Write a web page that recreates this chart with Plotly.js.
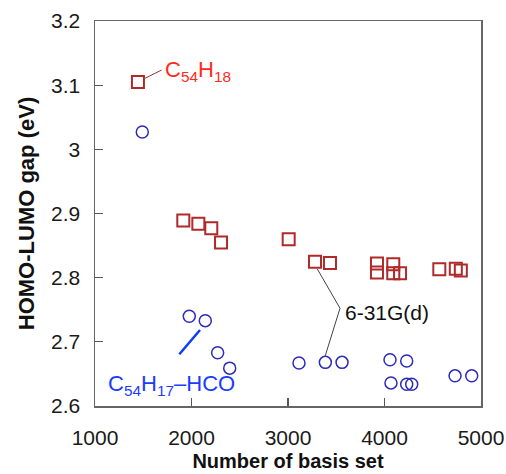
<!DOCTYPE html>
<html>
<head>
<meta charset="utf-8">
<script src="https://cdn.plot.ly/plotly-3.0.1.min.js"></script>
<style>html,body{margin:0;padding:0;background:#fff;}#chart{width:506px;height:474px;}</style>
</head>
<body>
<div id="chart"></div>
<script>
// C54H18 (squares)
const pahBasis = [1445, 1915, 2071, 2205, 2306, 3007, 3280, 3435, 3922, 3922, 4091, 4091, 4161, 4568, 4739, 4791];
const pahGap   = [3.105, 2.889, 2.884, 2.877, 2.855, 2.860, 2.825, 2.823, 2.822, 2.808, 2.821, 2.807, 2.807, 2.813, 2.814, 2.811];
// C54H17-HCO (circles)
const hcoBasis = [1490, 1977, 2143, 2271, 2396, 3114, 3387, 3560, 4057, 4230, 4067, 4230, 4282, 4731, 4904];
const hcoGap   = [3.027, 2.740, 2.733, 2.683, 2.659, 2.667, 2.668, 2.668, 2.672, 2.670, 2.636, 2.634, 2.634, 2.647, 2.647];

const xTickVals = [1000, 2000, 3000, 4000, 5000];
const xTickText = ['1000', '2000', '3000', '4000', '5000'];
const yTickVals = [2.6, 2.7, 2.8, 2.9, 3.0, 3.1, 3.2];
const yTickText = ['2.6', '2.7', '2.8', '2.9', '3', '3.1', '3.2'];

const FONT = 'Liberation Sans, Arial, sans-serif';

const traces = [
  {
    x: pahBasis, y: pahGap, type: 'scatter', mode: 'markers', name: 'C54H18',
    marker: {symbol: 'square-open', size: 12, color: '#b02a2a', line: {width: 2, color: '#b02a2a'}},
    hoverinfo: 'x+y'
  },
  {
    x: hcoBasis, y: hcoGap, type: 'scatter', mode: 'markers', name: 'C54H17-HCO',
    marker: {symbol: 'circle-open', size: 12, color: '#2c2cb8', line: {width: 1.5, color: '#2c2cb8'}},
    hoverinfo: 'x+y'
  }
];

const layout = {
  width: 506, height: 474,
  margin: {l: 95, r: 25, t: 21, b: 68, pad: 0},
  paper_bgcolor: '#ffffff', plot_bgcolor: '#ffffff',
  showlegend: false,
  font: {family: FONT, size: 21, color: '#1a1a1a'},
  xaxis: {
    range: [1000, 5000], tickvals: xTickVals, ticktext: xTickText,
    ticks: 'inside', ticklen: 8, tickwidth: 1.2, tickcolor: '#555',
    showline: true, linecolor: '#666', linewidth: 1.5, mirror: true,
    showgrid: false, zeroline: false,
    ticklabelstandoff: 12,
    tickfont: {family: FONT, size: 21, color: '#1a1a1a'},
    title: {text: 'Number of basis set', font: {family: FONT, size: 20, color: '#111', weight: 'bold'}, standoff: 6}
  },
  yaxis: {
    range: [2.6, 3.2], tickvals: yTickVals, ticktext: yTickText,
    ticks: 'inside', ticklen: 8, tickwidth: 1.2, tickcolor: '#555',
    showline: true, linecolor: '#666', linewidth: 1.5, mirror: true,
    showgrid: false, zeroline: false,
    ticklabelstandoff: 9,
    tickfont: {family: FONT, size: 21, color: '#1a1a1a'},
    title: {text: 'HOMO-LUMO gap (eV)', font: {family: FONT, size: 22, color: '#111', weight: 'bold'}, standoff: 10}
  },
  shapes: [
    {type: 'line', xref: 'x', yref: 'y', x0: 1518, y0: 3.1107, x1: 1691, y1: 3.1236, line: {color: '#8b3a3a', width: 1}},
    {type: 'line', xref: 'x', yref: 'y', x0: 1874, y0: 2.6806, x1: 2088, y1: 2.7185, line: {color: '#0a3cff', width: 2.5}},
    {type: 'path', xref: 'x', yref: 'y', path: 'M 3304 2.8135 L 3539 2.7523 L 3383 2.6769', line: {color: '#444', width: 1}}
  ],
  annotations: [
    {xref: 'x', yref: 'y', x: 1700, y: 3.122, xanchor: 'left', yanchor: 'middle', showarrow: false,
     text: 'C<sub>54</sub>H<sub>18</sub>', font: {family: FONT, size: 22, color: '#ff2a1a'}},
    {xref: 'x', yref: 'y', x: 1110, y: 2.632, xanchor: 'left', yanchor: 'middle', showarrow: false,
     text: 'C<sub>54</sub>H<sub>17</sub>–HCO', font: {family: FONT, size: 22, color: '#1a3cff'}},
    {xref: 'x', yref: 'y', x: 3565, y: 2.745, xanchor: 'left', yanchor: 'middle', showarrow: false,
     text: '6-31G(d)', font: {family: FONT, size: 21, color: '#111'}}
  ]
};

Plotly.newPlot('chart', traces, layout, {displayModeBar: false, staticPlot: true});
</script>
</body>
</html>
